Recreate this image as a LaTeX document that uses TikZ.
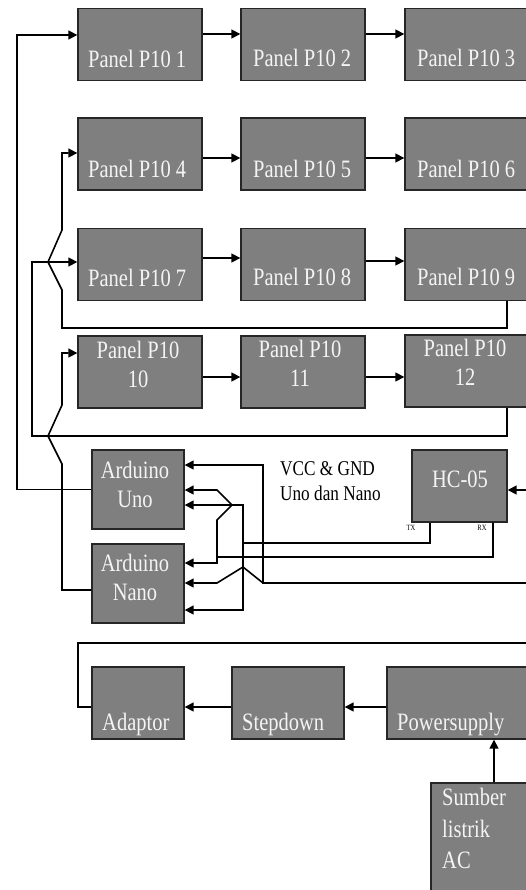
\documentclass[tikz,border=0pt]{standalone}
\usepackage{fontspec}
\newfontfamily\blokfont[FakeStretch=0.82]{Liberation Serif}
\usepackage{xcolor}
\definecolor{blokgray}{RGB}{127,127,127}
\definecolor{teksputih}{RGB}{244,244,244}
\usepackage{tikz}
\usetikzlibrary{arrows.meta, positioning, calc}

\tikzset{
  blok/.style={draw=black!85, fill=blokgray, line width=1.4pt, inner sep=0pt},
  panel/.style={blok, minimum width=124pt, minimum height=72pt},
  tulis/.style={text=teksputih, inner sep=0pt, font=\blokfont\fontsize{25}{29}\selectfont},
  sambung/.style={line width=1.6pt, black},
  panah/.style={sambung, -{Triangle[length=9pt,width=9pt]}}
}

\begin{document}
\begin{tikzpicture}[x=1pt, y=-1pt]
  \useasboundingbox (0,0) rectangle (526,890);
  \fill[white] (0,0) rectangle (526,890);
  \clip (0,0) rectangle (526,890);

  % Panel P10 rows
  \node[panel] (p1) at (140,44.5) {};
  \node[panel] (p2) at (303,44.5) {};
  \node[panel] (p3) at (467,44.5) {};
  \node[panel] (p4) at (140,154) {};
  \node[panel] (p5) at (303,154) {};
  \node[panel] (p6) at (467,154) {};
  \node[panel] (p7) at (140,264.5) {};
  \node[panel] (p8) at (303,264.5) {};
  \node[panel] (p9) at (467,264.5) {};
  \node[panel] (p10) at (140,372) {};
  \node[panel] (p11) at (303,372) {};
  \node[panel] (p12) at (467,371) {};

  \node[tulis, anchor=base west] (t1) at (88,68) {Panel P10 1};
  \node[tulis, anchor=base west] (t2) at (253,67) {Panel P10 2};
  \node[tulis, anchor=base west] (t3) at (417,67) {Panel P10 3};
  \node[tulis, anchor=base west] (t4) at (88,177.5) {Panel P10 4};
  \node[tulis, anchor=base west] (t5) at (253,178) {Panel P10 5};
  \node[tulis, anchor=base west] (t6) at (417,178) {Panel P10 6};
  \node[tulis, anchor=base west] (t7) at (88,286) {Panel P10 7};
  \node[tulis, anchor=base west] (t8) at (253,285) {Panel P10 8};
  \node[tulis, anchor=base west] (t9) at (417,285) {Panel P10 9};
  \node[tulis, align=center] (t10) at (138,364) {Panel P10\\10};
  \node[tulis, align=center] (t11) at (300,363.5) {Panel P10\\11};
  \node[tulis, align=center] (t12) at (465,362) {Panel P10\\12};

  % Arduino + HC-05
  \node[blok, minimum width=92pt, minimum height=79pt] (uno) at (138,489.5) {};
  \node[blok, minimum width=92pt, minimum height=79pt] (nano) at (138,583.5) {};
  \node[blok, minimum width=95pt, minimum height=72pt] (hc) at (459.5,486) {};
  \node[tulis, align=center] (tuno) at (135,484) {Arduino\\Uno};
  \node[tulis, align=center] (tnano) at (135,577) {Arduino\\Nano};
  \node[tulis, anchor=base] (thc) at (460,487) {HC-05};
  \node[inner sep=0pt, align=left, anchor=north west, font=\blokfont\fontsize{21}{25}\selectfont] (vcc) at (280,461) {VCC \& GND\\Uno dan Nano};
  \node[inner sep=0pt, font=\blokfont\fontsize{8}{9}\selectfont] (tx) at (411,528) {TX};
  \node[inner sep=0pt, font=\blokfont\fontsize{8}{9}\selectfont] (rx) at (482,528) {RX};

  % Power chain
  \node[blok, minimum width=92pt, minimum height=72pt] (adaptor) at (138,703) {};
  \node[blok, minimum width=112pt, minimum height=72pt] (stepdown) at (288,703) {};
  \node[blok, minimum width=140pt, minimum height=72pt] (power) at (457,703) {};
  \node[blok, minimum width=110pt, minimum height=117pt] (sumber) at (486,841.5) {};
  \node[tulis, anchor=base west] (tadaptor) at (102,730) {Adaptor};
  \node[tulis, anchor=base west] (tstepdown) at (242,730) {Stepdown};
  \node[tulis, anchor=base west] (tpower) at (397,730) {Powersupply};
  \node[tulis, align=left, anchor=north west, font=\blokfont\fontsize{25}{31.5}\selectfont] (tsumber) at (442,788) {Sumber\\listrik\\AC};

  \coordinate (kanan1) at (530,490);
  \coordinate (kanan2) at (530,583);
  \coordinate (kanan3) at (530,643);

  % panel chain
  \draw[panah] (uno.west) -| (17,35) -- (p1.west |- 0,35);
  \draw[panah] (p1.east |- 0,34) -- (p2.west |- 0,34);
  \draw[panah] (p2.east |- 0,34) -- (p3.west |- 0,34);
  \draw[panah] (p4.east |- 0,158) -- (p5.west |- 0,158);
  \draw[panah] (p5.east |- 0,158) -- (p6.west |- 0,158);
  \draw[panah] (p7.east |- 0,258) -- (p8.west |- 0,258);
  \draw[panah] (p8.east |- 0,261) -- (p9.west |- 0,261);
  \draw[panah] (p10.east |- 0,377) -- (p11.west |- 0,377);
  \draw[panah] (p11.east |- 0,377) -- (p12.west |- 0,377);
  \draw[panah] (p9.south -| 507,0) -- (507,328) -| (62,290) -- (48,262) -- (62,230) |- (p4.west |- 0,153);
  \draw[panah] (p12.south -| 507,0) -- (507,436) -| (32,262) -- (p7.west |- 0,262);
  \draw[panah] (nano.west |- 0,590) -| (62,464) -- (48,436) -- (62,405) |- (p10.west |- 0,353);

  % HC-05 and supply lines
  \draw[panah] (kanan1) -- (hc.east |- 0,490);
  \draw[panah] (hc.south -| 430,0) |- (243,543) |- (uno.east |- 0,505);
  \draw[panah] (243,543) |- (nano.east |- 0,610);
  \draw[panah] (hc.south -| 493,0) |- (217,557) -- (217,520) -- (232,505) -- (217,490) -- (uno.east |- 0,490);
  \draw[panah] (217,557) |- (nano.east |- 0,563);
  \draw[panah] (kanan2) -| (263,465) -- (uno.east |- 0,465);
  \draw[panah] (263,583) -- (243,567) -- (217,583) -- (nano.east |- 0,583);

  % power chain
  \draw[sambung] (adaptor.west |- 0,707) -| (78,643) -- (kanan3);
  \draw[panah] (power.west |- 0,707) -- (stepdown.east |- 0,707);
  \draw[panah] (stepdown.west |- 0,707) -- (adaptor.east |- 0,707);
  \draw[panah] (sumber.north -| 494,0) -- (power.south -| 494,0);
\end{tikzpicture}
\end{document}
